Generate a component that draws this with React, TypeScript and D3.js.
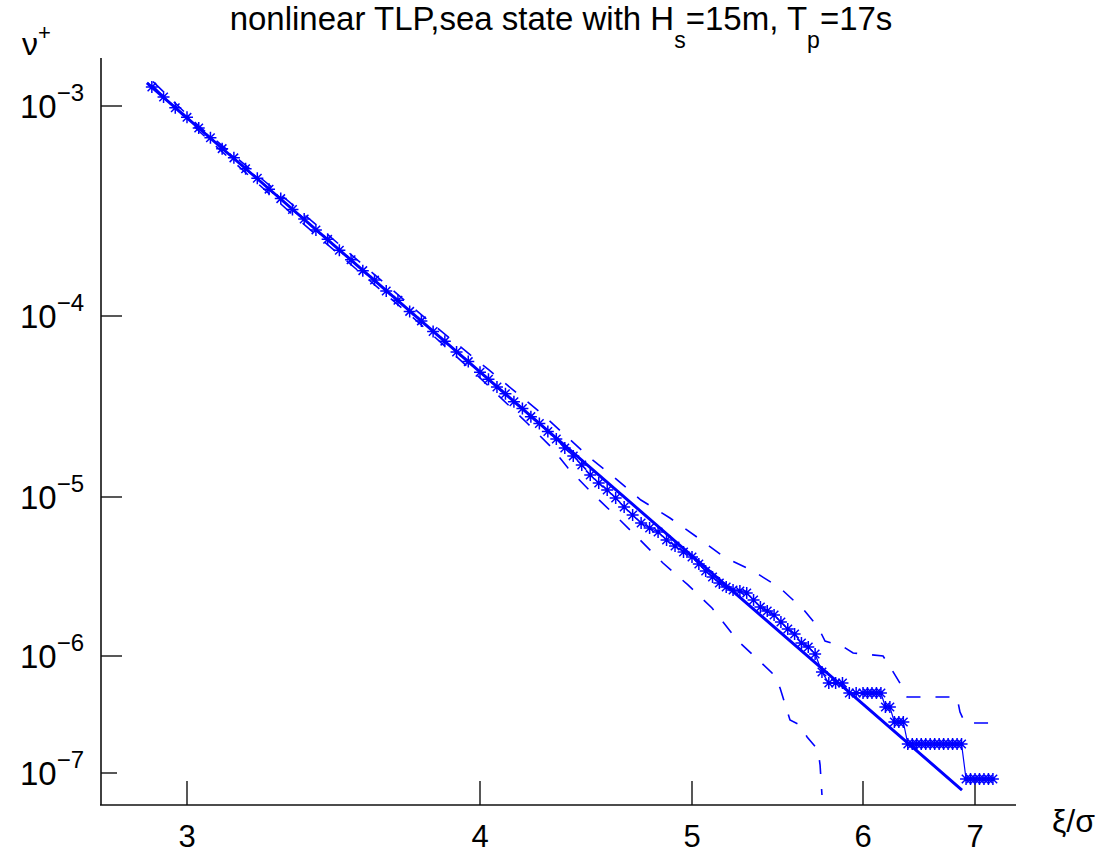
import React from "react";
import * as d3 from "d3";

// xi/sigma on x, log10(nu+) on y
const xTicks = [3, 4, 5, 6, 7];
const yTickExps = [-3, -4, -5, -6, -7];

// the axes of the original are not uniform: piecewise knots (pixel positions of the ticks)
const X_PIX = [187, 480, 692, 863, 975];
const Y_PIX = [106, 316, 497, 656, 773];

// theoretical (straight) curve
const theoryX = [2.863, 3.0, 4.0, 5.0, 6.0, 6.884];
const theoryY = [-2.89, -3.056, -4.309, -5.37, -6.411, -7.146];

// empirical upcrossing rate (stars)
const simX = [
  2.88, 2.92, 2.96, 3.0, 3.04, 3.08, 3.12, 3.16, 3.2, 3.24, 3.28, 3.32, 3.36, 3.4, 3.44, 3.48,
  3.52, 3.56, 3.6, 3.64, 3.68, 3.72, 3.76, 3.8, 3.84, 3.88, 3.92, 3.96, 4.0, 4.04, 4.08, 4.12,
  4.16, 4.2, 4.24, 4.28, 4.32, 4.36, 4.4, 4.44, 4.48, 4.52, 4.56, 4.6, 4.64, 4.68, 4.72, 4.76,
  4.8, 4.84, 4.88, 4.92, 4.96, 5.0, 5.04, 5.08, 5.12, 5.16, 5.2, 5.24, 5.28, 5.32, 5.36, 5.4,
  5.44, 5.48, 5.52, 5.56, 5.6, 5.64, 5.68, 5.72, 5.76, 5.8, 5.84, 5.88, 5.92, 5.96, 6.0, 6.04,
  6.08, 6.12, 6.16, 6.2, 6.24, 6.28, 6.32, 6.36, 6.4, 6.44, 6.48, 6.52, 6.56, 6.6, 6.64, 6.68,
  6.72, 6.76, 6.8, 6.84, 6.88, 6.92, 6.96, 7.0, 7.04, 7.08, 7.12, 7.16,
];
const simY = [
  -2.91, -2.957, -3.008, -3.054, -3.105, -3.151, -3.203, -3.247, -3.299, -3.344, -3.396, -3.441,
  -3.493, -3.538, -3.59, -3.635, -3.687, -3.732, -3.784, -3.829, -3.881, -3.925, -3.978, -4.027,
  -4.086, -4.139, -4.199, -4.252, -4.311, -4.349, -4.392, -4.43, -4.474, -4.511, -4.556, -4.594,
  -4.638, -4.68, -4.729, -4.773, -4.823, -4.878, -4.923, -4.961, -5.006, -5.063, -5.113, -5.164,
  -5.195, -5.22, -5.27, -5.308, -5.346, -5.377, -5.421, -5.465, -5.503, -5.541, -5.566, -5.585,
  -5.591, -5.604, -5.648, -5.692, -5.717, -5.742, -5.786, -5.83, -5.862, -5.918, -5.943, -5.987,
  -6.137, -6.231, -6.231, -6.231, -6.316, -6.316, -6.316, -6.316, -6.316, -6.316, -6.316, -6.436,
  -6.436, -6.564, -6.564, -6.564, -6.752, -6.752, -6.752, -6.752, -6.752, -6.752, -6.752, -6.752,
  -6.752, -6.752, -6.752, -6.752, -6.752, -7.051, -7.051, -7.051, -7.051, -7.051, -7.051, -7.051,
];

// confidence band, upper
const upperX = [
  2.884, 3.044, 3.386, 3.829, 4.042, 4.288, 4.514, 4.637, 4.759, 4.896, 5.029, 5.187, 5.357,
  5.515, 5.655, 5.737, 5.778, 5.877, 5.942, 6.179, 6.259, 6.33, 6.393, 6.839, 6.866, 6.911, 7.152,
];
const upperY = [
  -2.884, -3.1, -3.5, -4.033, -4.298, -4.536, -4.779, -4.895, -5.019, -5.132, -5.252, -5.377,
  -5.465, -5.572, -5.711, -5.818, -5.906, -5.937, -5.981, -6.0, -6.12, -6.231, -6.35, -6.35,
  -6.479, -6.573, -6.573,
];

// confidence band, lower
const lowerX = [
  2.884, 3.044, 3.386, 3.785, 4.0, 4.222, 4.34, 4.415, 4.528, 4.646, 4.755, 4.863, 4.981, 5.117,
  5.263, 5.468, 5.515, 5.573, 5.632, 5.673, 5.737, 5.749, 5.76,
];
const lowerY = [
  -2.905, -3.124, -3.548, -4.028, -4.342, -4.591, -4.729, -4.84, -4.978, -5.126, -5.27, -5.415,
  -5.553, -5.698, -5.899, -6.145, -6.274, -6.547, -6.59, -6.692, -6.803, -6.932, -7.188,
];

const BLUE = "#0000ff";
const FONT = "'Liberation Sans', Arial, Helvetica, sans-serif";

const zip = (xs: number[], ys: number[]) => xs.map((v, i) => [v, ys[i]] as [number, number]);

export default function App() {
  const x = d3.scaleLinear().domain(xTicks).range(X_PIX);
  const y = d3.scaleLinear().domain(yTickExps).range(Y_PIX);

  const line = d3
    .line<[number, number]>()
    .x((d) => x(d[0]))
    .y((d) => y(d[1]));

  const axisX0 = 101;
  const axisY0 = 805;

  const r = 6;
  const dd = r * 0.707;
  const star = `M${-r},0L${r},0M0,${-r}L0,${r}M${-dd},${-dd}L${dd},${dd}M${-dd},${dd}L${dd},${-dd}`;

  const sim = zip(simX, simY);

  return (
    <svg
      width={1104}
      height={855}
      style={{ position: "absolute", left: 0, top: 0, background: "white" }}
      fontFamily={FONT}
    >
      {/* title */}
      <text x={561} y={30} textAnchor="middle" fontSize={33} fill="#000">
        nonlinear TLP,sea state with H
        <tspan dy={18} fontSize={23}>s</tspan>
        <tspan dy={-18}>=15m, T</tspan>
        <tspan dy={18} fontSize={23}>p</tspan>
        <tspan dy={-18}>=17s</tspan>
      </text>

      {/* axes */}
      <line x1={axisX0} y1={58} x2={axisX0} y2={axisY0} stroke="#111" strokeWidth={1.6} />
      <line x1={axisX0 - 1} y1={axisY0} x2={1016} y2={axisY0} stroke="#111" strokeWidth={1.6} />

      {yTickExps.map((e, i) => (
        <g key={"yt" + e}>
          <line
            x1={axisX0}
            x2={axisX0 + (i === yTickExps.length - 1 ? 16 : 21)}
            y1={y(e)}
            y2={y(e)}
            stroke="#111"
            strokeWidth={1.4}
          />
          <text x={84} y={y(e) + 12} textAnchor="end" fontSize={33} fill="#000">
            10
            <tspan dy={-17} fontSize={24}>
              {"\u2212" + Math.abs(e)}
            </tspan>
          </text>
        </g>
      ))}

      {xTicks.map((v) => (
        <g key={"xt" + v}>
          <line x1={x(v)} x2={x(v)} y1={axisY0} y2={axisY0 - 24} stroke="#111" strokeWidth={1.4} />
          <text x={x(v)} y={847} textAnchor="middle" fontSize={31} fill="#000">
            {v}
          </text>
        </g>
      ))}

      {/* axis labels */}
      <text x={22} y={55} fontSize={32} fill="#000">
        ν<tspan dy={-15} fontSize={22}>+</tspan>
      </text>
      <text x={1052} y={832} fontSize={32} fill="#000">
        ξ/σ
      </text>

      {/* confidence bands */}
      <path d={line(zip(upperX, upperY)) || ""} fill="none" stroke={BLUE} strokeWidth={1.6} strokeDasharray="14 15" />
      <path d={line(zip(lowerX, lowerY)) || ""} fill="none" stroke={BLUE} strokeWidth={1.6} strokeDasharray="14 15" />

      {/* empirical */}
      <path d={line(sim) || ""} fill="none" stroke={BLUE} strokeWidth={1.2} />
      {sim.map((d, i) => (
        <path
          key={i}
          d={star}
          transform={`translate(${x(d[0])},${y(d[1])})`}
          fill="none"
          stroke={BLUE}
          strokeWidth={1.5}
        />
      ))}

      {/* theory */}
      <path d={line(zip(theoryX, theoryY)) || ""} fill="none" stroke={BLUE} strokeWidth={3} />
    </svg>
  );
}
